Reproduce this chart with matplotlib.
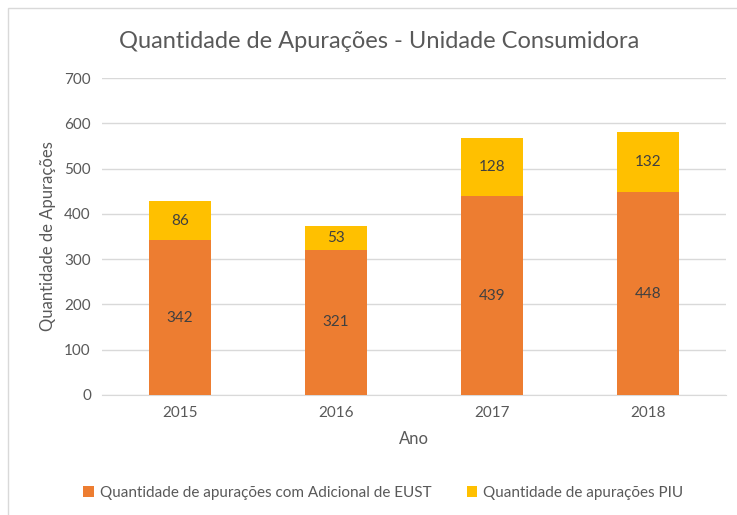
import matplotlib.pyplot as plt
from matplotlib.patches import Rectangle

anos = ["2015", "2016", "2017", "2018"]
adicional_eust = [342, 321, 439, 448]
piu = [86, 53, 128, 132]

plt.rcParams['font.family'] = ['Lato', 'DejaVu Sans']
cinza = "#595959"

fig = plt.figure(figsize=(7.37, 5.15), dpi=100)
fig.patches.append(Rectangle((8 / 737, -0.1), 1.1, 1 - 8 / 515 + 0.1, transform=fig.transFigure,
                             fill=False, edgecolor="#D9D9D9", linewidth=1))
ax = fig.add_axes([102 / 737, 1 - 395 / 515, 624 / 737, 317 / 515])

x = range(len(anos))
b1 = ax.bar(x, adicional_eust, width=0.4, color="#ED7D31", label="Quantidade de apurações com Adicional de EUST", zorder=3)
b2 = ax.bar(x, piu, width=0.4, bottom=adicional_eust, color="#FFC000", label="Quantidade de apurações PIU", zorder=3)
ax.bar_label(b1, label_type="center", fontsize=11, color="#404040")
ax.bar_label(b2, label_type="center", fontsize=11, color="#404040")

ax.set_xlim(-0.5, 3.5)
ax.set_ylim(0, 700)
ax.set_yticks(range(0, 701, 100))
ax.set_xticks(list(x))
ax.set_xticklabels(anos)
ax.grid(axis="y", color="#D9D9D9", linewidth=1, zorder=0)
for s in ["top", "right", "left"]:
    ax.spines[s].set_visible(False)
ax.spines["bottom"].set_color("#D9D9D9")
ax.tick_params(length=0, colors=cinza, labelsize=11, pad=8)
ax.set_xlabel("Ano", fontsize=12, color=cinza, labelpad=8)
ax.set_ylabel("Quantidade de Apurações", fontsize=12, color=cinza, labelpad=6)

fig.text(0.515, 1 - 42 / 515, "Quantidade de Apurações - Unidade Consumidora",
         ha="center", va="center", fontsize=17, color=cinza)

fig.legend(loc="center", bbox_to_anchor=(0.52, 1 - 493 / 515), ncol=2, frameon=False,
           fontsize=11, labelcolor=cinza, handlelength=0.7, handleheight=0.7,
           handletextpad=0.4, columnspacing=2.3)

plt.savefig("out.png")
